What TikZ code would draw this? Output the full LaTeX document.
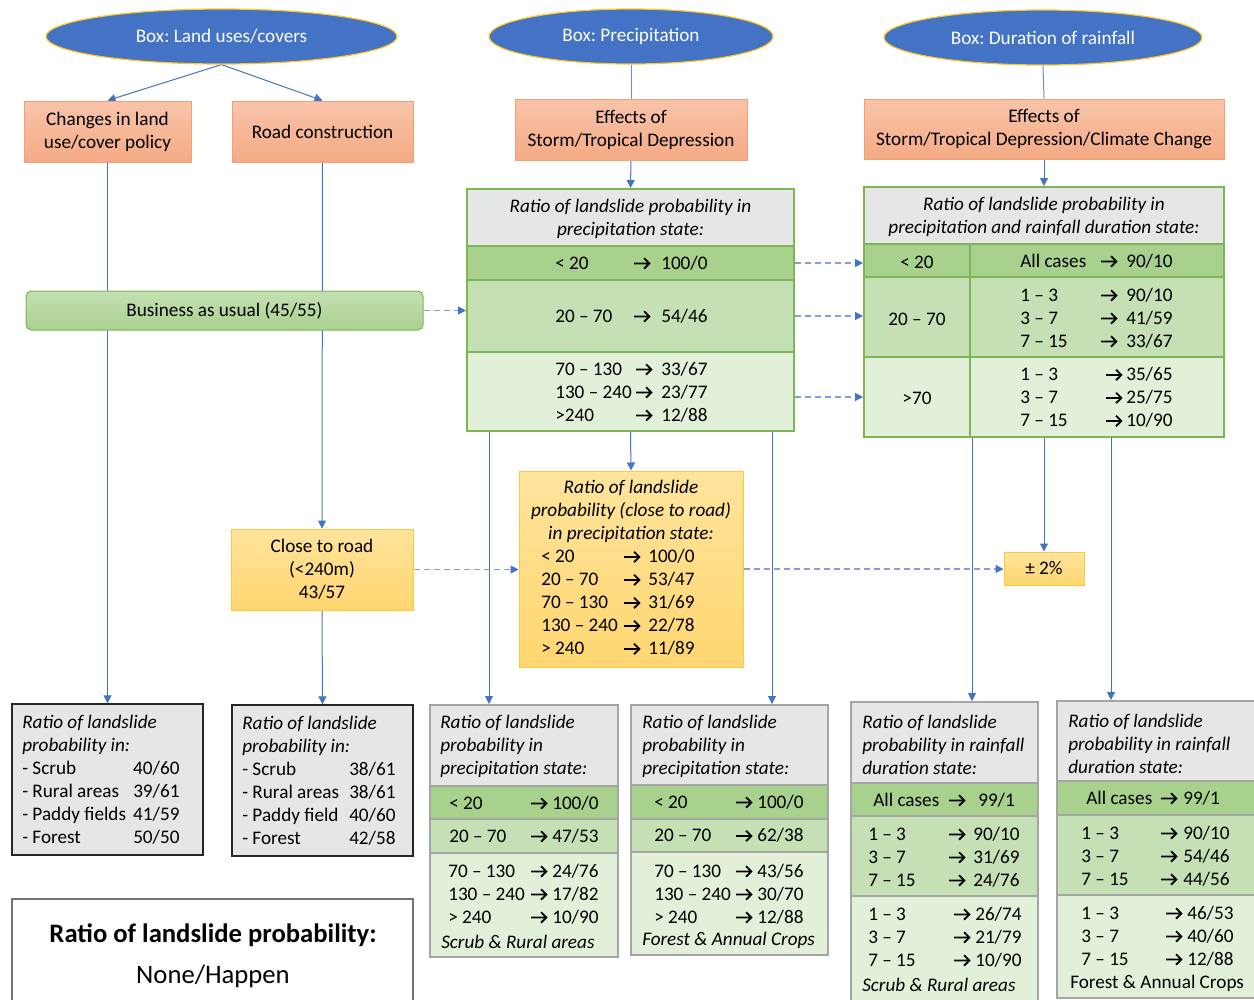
\documentclass[tikz,border=0pt]{standalone}
\usepackage{fontspec}
\setmainfont{Carlito}
\usepackage{array}
\usetikzlibrary{shapes.geometric,arrows.meta,calc}
\pgfdeclarelayer{bg}
\pgfdeclarelayer{paper}
\pgfsetlayers{paper,bg,main}
\frenchspacing
\newdimen\PX \PX=0.75pt
\newcommand\fs{\fontsize{14.4}{17.25}\selectfont\frenchspacing}
\newcommand\ar{\tikz[x=1pt,y=1pt,baseline=0pt]{\draw[line width=1.35pt, line cap=butt, miter limit=10] (0,4.3) -- (11.4,4.3) (7.4,0.4) -- (11.4,4.3) -- (7.4,8.2);}}
\definecolor{eblue}{RGB}{68,114,196}
\definecolor{egold}{RGB}{255,200,40}
\definecolor{orT}{RGB}{248,196,170}
\definecolor{orB}{RGB}{244,170,132}
\definecolor{orD}{RGB}{242,160,115}
\definecolor{gHead}{RGB}{231,230,230}
\definecolor{gA}{RGB}{169,209,142}
\definecolor{gB}{RGB}{197,224,180}
\definecolor{gC}{RGB}{226,240,217}
\definecolor{gBorder}{RGB}{125,182,86}
\definecolor{yT}{RGB}{255,228,156}
\definecolor{yB}{RGB}{255,214,112}
\definecolor{yD}{RGB}{255,200,60}
\definecolor{grayB}{RGB}{165,165,165}
\definecolor{linkc}{RGB}{68,114,196}
\definecolor{dlinkc}{RGB}{130,160,215}
\tikzset{
  sz/.style 2 args={minimum width=#1*0.75pt, minimum height=#2*0.75pt},
  ell/.style={ellipse, fill=eblue, draw=egold, line width=0.9pt, text=white, inner sep=0},
  orbox/.style={rectangle, top color=orT, bottom color=orB, draw=orD, line width=0.75pt, align=center, inner sep=0},
  ybox/.style={rectangle, top color=yT, bottom color=yB, draw=yD, line width=0.75pt, align=center, inner sep=0},
  gcell/.style={rectangle, draw=gBorder, line width=1.5pt, inner sep=0},
  scell/.style={rectangle, draw=grayB, line width=1.5pt, inner sep=0},
  dbox/.style={rectangle, fill=gHead, draw=black!85, line width=1.1pt, inner sep=0},
  txt/.style={inner sep=0, anchor=west, align=left, yshift=-1.2pt},
  ctxt/.style={inner sep=0, align=center, yshift=-1.2pt},
  itx/.style={font=\fs\itshape},
  link/.style={draw=linkc, line width=0.75pt, -{Triangle[length=6pt,width=6pt]}},
  plainlink/.style={draw=linkc!80, line width=0.75pt},
  dlink/.style={draw=dlinkc, line width=0.9pt, dash pattern=on 4.5pt off 3pt, -{Triangle[length=6pt,width=6pt,color=linkc]}},
}
\begin{document}
\begin{tikzpicture}[x=0.75pt,y=-0.75pt,font=\fs]
\useasboundingbox (0,0) rectangle (1254,1000);
\begin{pgfonlayer}{paper}
\fill[white] (0,0) rectangle (1254,1000);
\end{pgfonlayer}

% ellipses
\node[ell, sz={351}{55}] (e1) at (221.5,36.5) {Box: Land uses/covers};
\node[ell, sz={284}{55}] (e2) at (631,36.5) {Box: Precipitation};
\node[ell, sz={318}{55}] (e3) at (1043,37.5) {Box: Duration of rainfall};

% orange boxes
\node[orbox, sz={167}{61}] (chg) at (107.5,131.5) {Changes in land\\use/cover policy};
\node[orbox, sz={181}{61}] (road) at (322.5,131.5) {Road construction};
\node[orbox, sz={232}{61}] (effP) at (631,129.5) {Effects of\\Storm/Tropical Depression};
\node[orbox, sz={360}{60}] (effD) at (1044,129) {Effects of\\Storm/Tropical Depression/Climate Change};

% business as usual
\node[rectangle, rounded corners=4pt, top color=gB, bottom color=gA, draw=gBorder, line width=0.75pt, sz={397}{39}, inner sep=0] (bau) at (224.5,310.5) {Business as usual (45/55)};

% precipitation table
\node[gcell, fill=gHead, sz={327}{57}] (tPh) at (630.5,217.5) {};
\node[gcell, fill=gA, sz={327}{34}] (tP1) at (630.5,263) {};
\node[gcell, fill=gB, sz={327}{72}] (tP2) at (630.5,316) {};
\node[gcell, fill=gC, sz={327}{79}] (tP3) at (630.5,391.5) {};
\node[ctxt, itx] (tPht) at (630.5,217) {Ratio of landslide probability in\\precipitation state:};
\node[txt] (tP1t) at (555,263) {\begin{tabular}{@{}p{78\PX}@{}p{28\PX}@{}l@{}}< 20 & \ar & 100/0\end{tabular}};
\node[txt] (tP2t) at (555,316) {\begin{tabular}{@{}p{78\PX}@{}p{28\PX}@{}l@{}}20 – 70 & \ar & 54/46\end{tabular}};
\node[txt] (tP3t) at (555,392) {\begin{tabular}{@{}p{80\PX}@{}p{26\PX}@{}l@{}}70 – 130 & \ar & 33/67\\130 – 240 & \ar & 23/77\\>240 & \ar & 12/88\end{tabular}};

% duration table
\node[gcell, fill=gHead, sz={360}{57}] (tDh) at (1044,215.5) {};
\node[gcell, fill=gA, sz={106}{33}] (tD1l) at (917,260.5) {};
\node[gcell, fill=gA, sz={254}{33}] (tD1r) at (1097,260.5) {};
\node[gcell, fill=gB, sz={106}{80}] (tD2l) at (917,317) {};
\node[gcell, fill=gB, sz={254}{80}] (tD2r) at (1097,317) {};
\node[gcell, fill=gC, sz={106}{80}] (tD3l) at (917,397) {};
\node[gcell, fill=gC, sz={254}{80}] (tD3r) at (1097,397) {};
\node[ctxt, itx] (tDht) at (1044,215) {Ratio of landslide probability in\\precipitation and rainfall duration state:};
\node[ctxt] (tD1lt) at (917,261) {< 20};
\node[ctxt] (tD2lt) at (917,318) {20 – 70};
\node[ctxt] (tD3lt) at (917,397) {>70};
\node[txt] (tD1rt) at (1020,261) {\begin{tabular}{@{}p{80\PX}@{}p{26\PX}@{}l@{}}All cases & \ar & 90/10\end{tabular}};
\node[txt] (tD2rt) at (1020,318) {\begin{tabular}{@{}p{80\PX}@{}p{26\PX}@{}l@{}}1 – 3 & \ar & 90/10\\3 – 7 & \ar & 41/59\\7 – 15 & \ar & 33/67\end{tabular}};
\node[txt] (tD3rt) at (1020,397.5) {\begin{tabular}{@{}p{85\PX}@{}p{21\PX}@{}l@{}}1 – 3 & \ar & 35/65\\3 – 7 & \ar & 25/75\\7 – 15 & \ar & 10/90\end{tabular}};

% close to road
\node[ybox, sz={182}{81}] (close) at (322,569.5) {Close to road\\(<240m)\\43/57};
\node[ybox, sz={224}{196}] (cratio) at (631,569) {};
\node[ctxt, itx] (crh) at (631,510) {Ratio of landslide\\probability (close to road)\\in precipitation state:};
\node[txt] (crt) at (541,602.5) {\begin{tabular}{@{}p{82\PX}@{}p{25\PX}@{}l@{}}< 20 & \ar & 100/0\\20 – 70 & \ar & 53/47\\70 – 130 & \ar & 31/69\\130 – 240 & \ar & 22/78\\> 240 & \ar & 11/89\end{tabular}};
\node[ybox, sz={80}{33}] (pm) at (1044,568.5) {± 2\%};

% bottom left boxes
\node[dbox, sz={191}{151}] (b1) at (107.5,779.5) {};
\node[txt] (b1t) at (22,780) {\begin{tabular}{@{}p{111\PX}@{}l@{}}\multicolumn{2}{@{}l@{}}{\itshape Ratio of landslide}\\\multicolumn{2}{@{}l@{}}{\itshape probability in:}\\- Scrub & 40/60\\- Rural areas & 39/61\\- Paddy fields & 41/59\\- Forest & 50/50\end{tabular}};
\node[dbox, sz={181}{151}] (b2) at (322.5,780.5) {};
\node[txt] (b2t) at (242,780.5) {\begin{tabular}{@{}p{107\PX}@{}l@{}}\multicolumn{2}{@{}l@{}}{\itshape Ratio of landslide}\\\multicolumn{2}{@{}l@{}}{\itshape probability in:}\\- Scrub & 38/61\\- Rural areas & 38/61\\- Paddy field & 40/60\\- Forest & 42/58\end{tabular}};

% legend
\node[rectangle, draw=black!55, line width=0.9pt, fill=white, sz={401}{104}, inner sep=0] (leg) at (212.5,951) {};
\node[ctxt, font=\fontsize{20}{24}\selectfont\frenchspacing\bfseries] (legA) at (213,934) {Ratio of landslide probability:};
\node[ctxt, font=\fontsize{20}{24}\selectfont] (legB) at (213,975) {None/Happen};

% box 3
\node[scell, fill=gHead, sz={188}{81}] (b3h) at (524,745.5) {};
\node[scell, fill=gA, sz={188}{33}] (b3a) at (524,802.5) {};
\node[scell, fill=gB, sz={188}{34}] (b3b) at (524,836) {};
\node[scell, fill=gC, sz={188}{104}] (b3c) at (524,905) {};
\node[txt, itx] (b3ht) at (440,745) {Ratio of landslide\\probability in\\precipitation state:};
\node[txt] (b3at) at (449,803) {\begin{tabular}{@{}p{81\PX}@{}p{22\PX}@{}l@{}}< 20 & \ar & 100/0\end{tabular}};
\node[txt] (b3bt) at (449,836) {\begin{tabular}{@{}p{81\PX}@{}p{22\PX}@{}l@{}}20 – 70 & \ar & 47/53\end{tabular}};
\node[txt] (b3ct) at (448,894) {\begin{tabular}{@{}p{82\PX}@{}p{22\PX}@{}l@{}}70 – 130 & \ar & 24/76\\130 – 240 & \ar & 17/82\\> 240 & \ar & 10/90\end{tabular}};
\node[txt, itx] (b3d) at (441,940) {Scrub \& Rural areas};

% box 4
\node[scell, fill=gHead, sz={197}{80}] (b4h) at (729.5,745) {};
\node[scell, fill=gA, sz={197}{34}] (b4a) at (729.5,802) {};
\node[scell, fill=gB, sz={197}{33}] (b4b) at (729.5,835.5) {};
\node[scell, fill=gC, sz={197}{103}] (b4c) at (729.5,903.5) {};
\node[txt, itx] (b4ht) at (642,745) {Ratio of landslide\\probability in\\precipitation state:};
\node[txt] (b4at) at (654,802) {\begin{tabular}{@{}p{81\PX}@{}p{22\PX}@{}l@{}}< 20 & \ar & 100/0\end{tabular}};
\node[txt] (b4bt) at (654,835.5) {\begin{tabular}{@{}p{81\PX}@{}p{22\PX}@{}l@{}}20 – 70 & \ar & 62/38\end{tabular}};
\node[txt] (b4ct) at (654,894) {\begin{tabular}{@{}p{81\PX}@{}p{22\PX}@{}l@{}}70 – 130 & \ar & 43/56\\130 – 240 & \ar & 30/70\\> 240 & \ar & 12/88\end{tabular}};
\node[txt, itx] (b4d) at (642,939) {Forest \& Annual Crops};

% box 5
\node[scell, fill=gHead, sz={187}{81}] (b5h) at (944.5,742.5) {};
\node[scell, fill=gA, sz={187}{33}] (b5a) at (944.5,799.5) {};
\node[scell, fill=gB, sz={187}{80}] (b5b) at (944.5,856) {};
\node[scell, fill=gC, sz={187}{108}] (b5c) at (944.5,950) {};
\node[txt, itx] (b5ht) at (862,743) {Ratio of landslide\\probability in rainfall\\duration state:};
\node[txt] (b5at) at (873,800) {\begin{tabular}{@{}p{75\PX}@{}p{30\PX}@{}l@{}}All cases & \ar & 99/1\end{tabular}};
\node[txt] (b5bt) at (868,857) {\begin{tabular}{@{}p{80\PX}@{}p{25\PX}@{}l@{}}1 – 3 & \ar & 90/10\\3 – 7 & \ar & 31/69\\7 – 15 & \ar & 24/76\end{tabular}};
\node[txt] (b5ct) at (868,937) {\begin{tabular}{@{}p{85\PX}@{}p{22\PX}@{}l@{}}1 – 3 & \ar & 26/74\\3 – 7 & \ar & 21/79\\7 – 15 & \ar & 10/90\end{tabular}};
\node[txt, itx] (b5d) at (862,983) {Scrub \& Rural areas};

% box 6
\node[scell, fill=gHead, sz={200}{80}] (b6h) at (1157,741) {};
\node[scell, fill=gA, sz={200}{34}] (b6a) at (1157,798) {};
\node[scell, fill=gB, sz={200}{80}] (b6b) at (1157,855) {};
\node[scell, fill=gC, sz={200}{103}] (b6c) at (1157,946.5) {};
\node[txt, itx] (b6ht) at (1068,742) {Ratio of landslide\\probability in rainfall\\duration state:};
\node[txt] (b6at) at (1086,798) {\begin{tabular}{@{}p{74\PX}@{}p{23\PX}@{}l@{}}All cases & \ar & 99/1\end{tabular}};
\node[txt] (b6bt) at (1081,856) {\begin{tabular}{@{}p{79\PX}@{}p{23\PX}@{}l@{}}1 – 3 & \ar & 90/10\\3 – 7 & \ar & 54/46\\7 – 15 & \ar & 44/56\end{tabular}};
\node[txt] (b6ct) at (1081,936) {\begin{tabular}{@{}p{84\PX}@{}p{22\PX}@{}l@{}}1 – 3 & \ar & 46/53\\3 – 7 & \ar & 40/60\\7 – 15 & \ar & 12/88\end{tabular}};
\node[txt] (b6d) at (1070,982) {Forest \& Annual Crops};

% free-end coordinates
\coordinate (sP1) at (489,431);
\coordinate (sP2) at (772,431);
\coordinate (sD1) at (972,437);
\coordinate (sD2) at (1111,437);

\begin{pgfonlayer}{bg}
\draw[link] (e1.south) -- (chg.north);
\draw[link] (e1.south) -- (road.north);
\draw[plainlink] (e2.south) -- (effP.north);
\draw[plainlink] (e3.south) -- (effD.north);
\draw[link] (effP.south) -- (tPh.north);
\draw[link] (effD.south) -- (tDh.north);
\draw[link] (chg.south) -- (b1.north);
\draw[link] (road.south) -- (close.north);
\draw[link] (close.south) -- (b2.north);
\draw[dlink] (bau.east) -- (bau.east -| tP2.west);
\draw[dlink] (tP1.east) -- (tP1.east -| tD1l.west);
\draw[dlink] (tP2.east) -- (tP2.east -| tD2l.west);
\draw[dlink] (tP3.east |- tD3l.west) -- (tD3l.west);
\draw[link] (tP3.south) -- (cratio.north);
\draw[link] (sP1) -- (sP1 |- b3h.north);
\draw[link] (sP2) -- (sP2 |- b4h.north);
\draw[link] (sD1) -- (sD1 |- b5h.north);
\draw[link] (sD2) -- (sD2 |- b6h.north);
\draw[link] (pm.north |- tD3r.south) -- (pm.north);
\draw[dlink] (close.east) -- (close.east -| cratio.west);
\draw[dlink] (cratio.east) -- (cratio.east -| pm.west);
\end{pgfonlayer}
\end{tikzpicture}
\end{document}
